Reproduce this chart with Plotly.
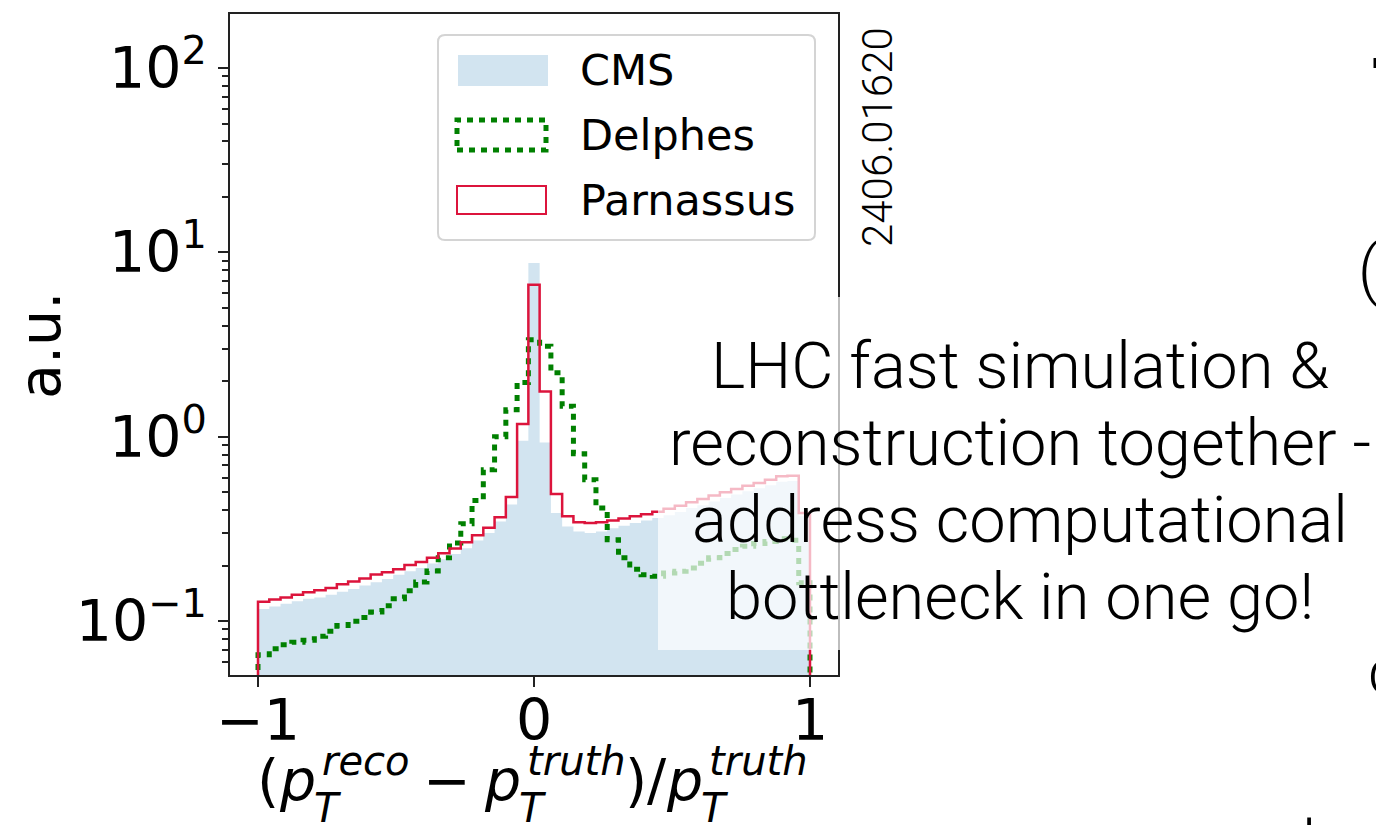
import numpy as np
import plotly.graph_objects as go

# ---------------- data ----------------
N_BINS = 49
X_LO, X_HI = -1.0, 1.0

cms = [0.116, 0.120, 0.124, 0.128, 0.132, 0.134, 0.139, 0.144, 0.149, 0.156,
       0.162, 0.169, 0.178, 0.186, 0.194, 0.205, 0.216, 0.231, 0.248, 0.273,
       0.300, 0.347, 0.428, 0.951, 8.76, 0.931, 0.385, 0.326, 0.306, 0.300,
       0.306, 0.319, 0.329, 0.340, 0.351, 0.362, 0.375, 0.390, 0.410, 0.425,
       0.445, 0.465, 0.485, 0.505, 0.525, 0.545, 0.570, 0.575, 0.370]

delphes = [0.0656, 0.0708, 0.0744, 0.0766, 0.0785, 0.0826, 0.0879, 0.0944, 0.0996, 0.1046,
           0.112, 0.121, 0.132, 0.146, 0.163, 0.187, 0.220, 0.265, 0.337, 0.451,
           0.662, 1.00, 1.40, 1.97, 3.36, 3.09, 2.22, 1.46, 0.809, 0.584,
           0.410, 0.276, 0.220, 0.191, 0.178, 0.175, 0.182, 0.186, 0.194, 0.206,
           0.220, 0.232, 0.244, 0.254, 0.263, 0.270, 0.279, 0.274, 0.161]

parnassus = [0.127, 0.131, 0.134, 0.139, 0.143, 0.147, 0.151, 0.158, 0.164, 0.170,
             0.179, 0.184, 0.191, 0.201, 0.209, 0.220, 0.233, 0.247, 0.267, 0.292,
             0.321, 0.365, 0.471, 1.17, 6.68, 1.76, 0.489, 0.370, 0.343, 0.340,
             0.343, 0.351, 0.360, 0.370, 0.379, 0.392, 0.406, 0.422, 0.441, 0.459,
             0.479, 0.499, 0.520, 0.542, 0.561, 0.584, 0.609, 0.614, 0.385]

series_names = ["CMS", "Delphes", "Parnassus"]
x_tick_vals = [-1, 0, 1]
x_tick_text = ["\u22121", "0", "1"]
y_tick_vals = [0.1, 1, 10, 100]
y_tick_text = ["10<sup>\u22121</sup>", "10<sup>0</sup>", "10<sup>1</sup>", "10<sup>2</sup>"]
slide_lines = ["LHC fast simulation &", "reconstruction together -",
               "address computational", "bottleneck in one go!"]

# ---------------- helpers ----------------
W, H = 1376, 825
FLOOR = 1e-4
edges = np.linspace(X_LO, X_HI, N_BINS + 1)


def step_xy(vals):
    xs = np.repeat(edges, 2)
    ys = np.concatenate([[FLOOR], np.repeat(np.asarray(vals, float), 2), [FLOOR]])
    return xs, ys


def px(x):
    return x / W


def py(y):
    return 1 - y / H


CMS_FILL = "rgb(210,228,240)"
GREEN = "rgb(0,128,0)"
RED = "rgb(220,20,60)"
DJ = "DejaVu Sans"
THIN = "Roboto"

fig = go.Figure()

xs, ys = step_xy(cms)
fig.add_trace(go.Scatter(x=xs, y=ys, mode="lines", fill="toself", fillcolor=CMS_FILL,
                         line=dict(width=0, color=CMS_FILL), name=series_names[0],
                         showlegend=False, hoverinfo="skip"))
xs, ys = step_xy(delphes)
fig.add_trace(go.Scatter(x=xs, y=ys, mode="lines",
                         line=dict(width=5, color=GREEN, dash="6px,6px"),
                         name=series_names[1], showlegend=False, hoverinfo="skip"))
xs, ys = step_xy(parnassus)
fig.add_trace(go.Scatter(x=xs, y=ys, mode="lines",
                         line=dict(width=2.5, color=RED),
                         name=series_names[2], showlegend=False, hoverinfo="skip"))

minor_vals = [m * 10.0 ** d for d in range(-2, 3) for m in range(2, 10)]

fig.update_layout(
    width=W, height=H,
    margin=dict(l=0, r=0, t=0, b=0, pad=0, autoexpand=False),
    paper_bgcolor="white", plot_bgcolor="white",
    showlegend=False,
    xaxis=dict(domain=[px(230.4), px(837.6)], range=[-1.1, 1.1], automargin=False,
               showgrid=False, zeroline=False, showline=True, mirror=True,
               linecolor="#222", linewidth=2,
               ticks="outside", ticklen=10, tickwidth=2, tickcolor="#222",
               tickvals=x_tick_vals, ticktext=x_tick_text, ticklabelstandoff=-15,
               tickfont=dict(family=DJ, size=57, color="black")),
    yaxis=dict(domain=[py(675), py(14)], type="log", range=[-1.293, 2.293], automargin=False,
               showgrid=False, zeroline=False, showline=True, mirror=True,
               linecolor="#222", linewidth=2,
               ticks="outside", ticklen=10, tickwidth=2, tickcolor="#222",
               tickvals=y_tick_vals, ticktext=y_tick_text,
               tickfont=dict(family=DJ, size=57, color="black"),
               minor=dict(tickvals=minor_vals, ticks="outside", ticklen=6,
                          tickwidth=1.5, tickcolor="#222", showgrid=False)),
)

shapes = []
annotations = []

# legend frame (rounded)
lx0, lx1, ly0, ly1, r = 438, 815, 35, 240, 7
path = (f"M {px(lx0 + r)} {py(ly0)} L {px(lx1 - r)} {py(ly0)} "
        f"Q {px(lx1)} {py(ly0)} {px(lx1)} {py(ly0 + r)} L {px(lx1)} {py(ly1 - r)} "
        f"Q {px(lx1)} {py(ly1)} {px(lx1 - r)} {py(ly1)} L {px(lx0 + r)} {py(ly1)} "
        f"Q {px(lx0)} {py(ly1)} {px(lx0)} {py(ly1 - r)} L {px(lx0)} {py(ly0 + r)} "
        f"Q {px(lx0)} {py(ly0)} {px(lx0 + r)} {py(ly0)} Z")
shapes.append(dict(type="path", xref="paper", yref="paper", path=path,
                   fillcolor="rgba(255,255,255,0.8)", line=dict(color="#d4d4d4", width=2),
                   layer="above"))
# legend handles
shapes.append(dict(type="rect", xref="paper", yref="paper", x0=px(458), x1=px(548),
                   y0=py(86), y1=py(55), fillcolor=CMS_FILL, line=dict(width=0), layer="above"))
shapes.append(dict(type="rect", xref="paper", yref="paper", x0=px(457), x1=px(546),
                   y0=py(150), y1=py(120), fillcolor="rgba(0,0,0,0)",
                   line=dict(color=GREEN, width=5, dash="6px,6px"), layer="above"))
shapes.append(dict(type="rect", xref="paper", yref="paper", x0=px(457), x1=px(546),
                   y0=py(214), y1=py(186), fillcolor="white",
                   line=dict(color=RED, width=2), layer="above"))
for name, yc in zip(series_names, [70, 135, 200]):
    annotations.append(dict(text=name, xref="paper", yref="paper", x=px(578), y=py(yc),
                            xanchor="left", yanchor="middle", showarrow=False,
                            font=dict(family=DJ, size=43, color="black")))

# white translucent text box of the slide
shapes.append(dict(type="rect", xref="paper", yref="paper", x0=px(658), x1=px(1380),
                   y0=py(650), y1=py(297), fillcolor="rgba(255,255,255,0.7)",
                   line=dict(width=0), layer="above"))

# y label
annotations.append(dict(text="a.u.", xref="paper", yref="paper", x=px(40), y=py(346),
                        textangle=-90, xanchor="center", yanchor="middle", showarrow=False,
                        font=dict(family=DJ, size=57, color="black")))

# x label built like matplotlib mathtext (base, superscript and subscript pieces)
BASE_Y, SUP_Y, SUB_Y = 780, 761, 808
label_pieces = [
    ("(", 256, 57, BASE_Y, False),
    ("p", 278, 57, BASE_Y, True),
    ("T", 313, 40, SUB_Y, True),
    ("reco", 321, 40, SUP_Y, True),
    ("\u2212", 422, 57, BASE_Y, False),
    ("p", 483, 57, BASE_Y, True),
    ("T", 518, 40, SUB_Y, True),
    ("truth", 526, 40, SUP_Y, True),
    (")", 624, 57, BASE_Y, False),
    ("/", 646, 57, BASE_Y, False),
    ("p", 665, 57, BASE_Y, True),
    ("T", 700, 40, SUB_Y, True),
    ("truth", 708, 40, SUP_Y, True),
]
for txt, xl, sz, yc, ital in label_pieces:
    annotations.append(dict(text=f"<i>{txt}</i>" if ital else txt, xref="paper", yref="paper",
                            x=px(xl), y=py(yc), xanchor="left", yanchor="middle",
                            showarrow=False, borderpad=0,
                            font=dict(family=DJ, size=sz, color="black")))

# arXiv id
annotations.append(dict(text="2406.01620", xref="paper", yref="paper", x=px(878), y=py(137),
                        textangle=-90, xanchor="center", yanchor="middle", showarrow=False,
                        font=dict(family=THIN, size=42, color="black", weight=300)))

# slide text
for i, t in enumerate(slide_lines):
    annotations.append(dict(text=t, xref="paper", yref="paper", x=px(1020), y=py(366 + 77 * i),
                            xanchor="center", yanchor="middle", showarrow=False,
                            font=dict(family=THIN, size=65, color="black", weight=300)))

# fragments of neighbouring slide text cut by the frame
annotations.append(dict(text="(", xref="paper", yref="paper", x=px(1356), y=py(270),
                        xanchor="left", yanchor="middle", showarrow=False,
                        font=dict(family=THIN, size=64, color="black", weight=300)))
annotations.append(dict(text="c", xref="paper", yref="paper", x=px(1366), y=py(672),
                        xanchor="left", yanchor="middle", showarrow=False,
                        font=dict(family=THIN, size=64, color="black", weight=300)))
annotations.append(dict(text="ata", xref="paper", yref="paper", x=px(1264), y=py(839),
                        xanchor="left", yanchor="middle", showarrow=False,
                        font=dict(family=THIN, size=64, color="black", weight=300)))
shapes.append(dict(type="rect", xref="paper", yref="paper", x0=px(1373.5), x1=px(1377),
                   y0=py(68), y1=py(58), fillcolor="black", line=dict(width=0)))

fig.update_layout(shapes=shapes, annotations=annotations)

fig.write_html("out.html", config={"displayModeBar": False},
               post_script="document.body.style.margin='0';")
